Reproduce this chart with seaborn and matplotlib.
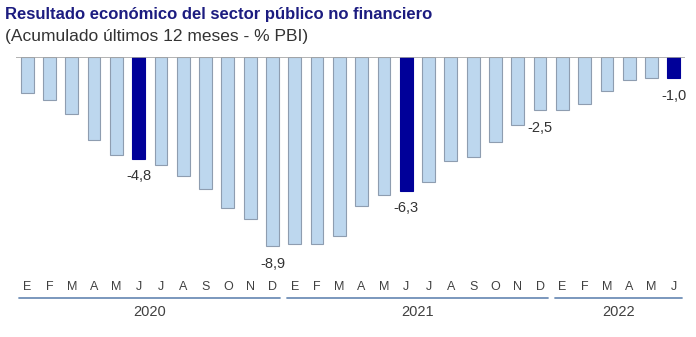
import numpy as np
import pandas as pd
import matplotlib
matplotlib.use("Agg")
import matplotlib.pyplot as plt
import matplotlib.transforms as mtransforms
from matplotlib.lines import Line2D
import seaborn as sns

# Monthly series, Jan 2020 - Jun 2022 (% of GDP, trailing 12 months)
months = ["E", "F", "M", "A", "M", "J", "J", "A", "S", "O", "N", "D",
          "E", "F", "M", "A", "M", "J", "J", "A", "S", "O", "N", "D",
          "E", "F", "M", "A", "M", "J"]
years = ["2020", "2021", "2022"]
year_months = [12, 12, 6]
values = [-1.7, -2.0, -2.7, -3.9, -4.6, -4.8, -5.1, -5.6, -6.2, -7.1, -7.6, -8.9,
          -8.8, -8.8, -8.4, -7.0, -6.5, -6.3, -5.9, -4.9, -4.7, -4.0, -3.2, -2.5,
          -2.5, -2.2, -1.6, -1.1, -1.0, -1.0]
highlight = [5, 17, 29]
labelled = [5, 11, 17, 23, 29]

LIGHT = "#bdd7ee"
LIGHT_EDGE = "#8e9db0"
DARK = "#000099"
NARROW = ["Liberation Sans Narrow", "Liberation Sans"]

W, H = 696, 337
fig = plt.figure(figsize=(W / 100, H / 100), dpi=100)
sns.set_style("white")
plt.rcParams["font.family"] = ["Liberation Sans", "DejaVu Sans"]

zero_px, bottom_px = 57, 275
px_per_unit = 21.25
ax = fig.add_axes([16 / W, 1 - bottom_px / H, (685 - 16) / W, (bottom_px - zero_px) / H])

df = pd.DataFrame({"idx": np.arange(len(values)), "value": values})
colors = [DARK if i in highlight else LIGHT for i in range(len(values))]
sns.barplot(data=df, x="idx", y="value", hue="idx", palette=colors, legend=False,
            width=0.57, saturation=1, ax=ax, native_scale=True)
for i, p in enumerate(ax.patches):
    p.set_edgecolor(DARK if i in highlight else LIGHT_EDGE)
    p.set_linewidth(0.8)

ax.set_xlim(-0.5, len(values) - 0.5)
ax.set_ylim(-(bottom_px - zero_px) / px_per_unit, 0)
ax.axhline(0, color="#a6a6a6", lw=1.2, zorder=5)
for s in ax.spines.values():
    s.set_visible(False)
ax.set_xticks([])
ax.set_yticks([])
ax.set_xlabel("")
ax.set_ylabel("")
ax.patch.set_alpha(0)

# Value labels under selected bars
for i in labelled:
    v = values[i]
    ax.annotate(f"{v:.1f}".replace(".", ","), xy=(i, v), xytext=(0, -17.5 * 0.72),
                textcoords="offset points", ha="center", va="center",
                fontsize=10.5, color="#333333")

# Month and year axis
tr = mtransforms.blended_transform_factory(ax.transData, fig.transFigure)
for i, m in enumerate(months):
    ax.text(i, 1 - 287 / H, m, transform=tr, ha="center", va="center",
            fontsize=9, color="#404040", family=NARROW)
start = 0
for y, n in zip(years, year_months):
    x0, x1 = start - 0.5 + 0.15, start + n - 0.5 - 0.15
    fig.add_artist(Line2D([x0, x1], [1 - 297.5 / H] * 2, transform=tr, color="#6f8fb8", lw=1.3))
    ax.text((x0 + x1) / 2, 1 - 312 / H, y, transform=tr, ha="center", va="center",
            fontsize=10.5, color="#404040", family=NARROW)
    start += n

fig.text(5 / W, 1 - 15 / H, "Resultado económico del sector público no financiero",
         ha="left", va="center", fontsize=12, fontweight="bold", color="#1c1c80")
fig.text(5 / W, 1 - 37 / H, "(Acumulado últimos 12 meses - % PBI)",
         ha="left", va="center", fontsize=12.5, color="#333333")

fig.savefig("out.png", dpi=100)
